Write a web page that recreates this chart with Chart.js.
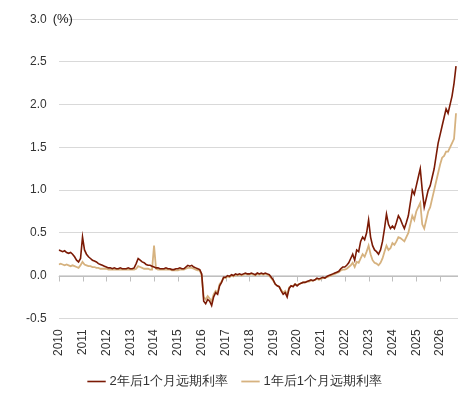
<!DOCTYPE html>
<html><head><meta charset="utf-8">
<script src="https://cdn.jsdelivr.net/npm/chart.js@4"></script>
<style>html,body{margin:0;padding:0;background:#fff}#w{width:474px;height:406px}</style>
</head><body><div id="w"><canvas id="c"></canvas></div>
<script>
const startYear = 2010;
const seriesNames = ["2年后1个月远期利率", "1年后1个月远期利率"];
const yTicks = [-0.5, 0, 0.5, 1.0, 1.5, 2.0, 2.5, 3.0];
const xTicks = [2010,2011,2012,2013,2014,2015,2016,2017,2018,2019,2020,2021,2022,2023,2024,2025,2026];
const rate2y = [
.30,.29,.28,.29,.27,.26,.27,.25,.22,.18,.16,.20,
.45,.30,.25,.22,.20,.18,.17,.16,.14,.13,.12,.11,
.10,.09,.09,.08,.09,.08,.08,.09,.08,.08,.08,.09,
.08,.08,.09,.14,.20,.18,.16,.15,.13,.12,.12,.11,
.10,.09,.09,.08,.08,.08,.09,.08,.08,.07,.07,.08,
.08,.09,.08,.08,.10,.12,.11,.12,.10,.09,.08,.07,
.02,-.30,-.33,-.28,-.30,-.35,-.25,-.20,-.22,-.12,-.08,-.02,
-.02,.0,-.01,.01,.0,.02,.01,.02,.01,.02,.03,.02,
.02,.03,.02,.01,.03,.02,.03,.02,.03,.02,.01,-.02,
-.05,-.10,-.12,-.13,-.18,-.22,-.20,-.25,-.15,-.12,-.13,-.10,
-.12,-.10,-.09,-.08,-.08,-.07,-.06,-.05,-.06,-.05,-.03,-.04,
-.03,-.02,-.03,-.01,.0,.01,.02,.03,.04,.05,.08,.10,
.10,.12,.15,.20,.25,.18,.30,.28,.40,.45,.42,.50,
.65,.45,.35,.30,.28,.25,.30,.40,.55,.72,.60,.55,
.58,.55,.62,.70,.66,.60,.55,.62,.70,.85,1.0,.95,
1.05,1.15,1.25,1.0,.80,.90,1.0,1.05,1.15,1.25,1.40,1.55,
1.65,1.75,1.85,1.95,1.90,2.00,2.10,2.25,2.45];
const rate1y = [
.13,.14,.13,.12,.13,.12,.11,.12,.11,.10,.09,.12,
.16,.13,.12,.11,.11,.10,.10,.09,.09,.08,.08,.08,
.08,.07,.07,.07,.07,.07,.07,.07,.07,.07,.07,.07,
.07,.07,.07,.08,.11,.10,.09,.08,.08,.08,.07,.07,
.35,.08,.07,.07,.07,.07,.07,.07,.07,.06,.06,.06,
.06,.07,.07,.07,.08,.09,.09,.09,.08,.07,.06,.06,
.0,-.25,-.28,-.24,-.27,-.30,-.22,-.18,-.20,-.10,-.07,-.03,
-.03,-.01,-.02,0,-.01,.01,0,.01,0,.01,.02,.01,
.01,.02,.01,0,.02,.01,.02,.01,.02,.01,0,-.03,
-.06,-.10,-.12,-.13,-.17,-.20,-.18,-.22,-.14,-.12,-.12,-.10,
-.11,-.10,-.09,-.08,-.08,-.07,-.07,-.06,-.06,-.05,-.04,-.05,
-.04,-.03,-.03,-.02,-.01,0,.01,.02,.03,.04,.06,.07,
.07,.08,.10,.12,.15,.10,.16,.15,.20,.25,.22,.28,
.35,.25,.18,.15,.14,.12,.15,.20,.28,.35,.30,.32,
.38,.36,.40,.45,.44,.42,.40,.45,.50,.60,.70,.65,
.75,.80,.85,.60,.55,.65,.75,.80,.90,1.0,1.10,1.20,
1.30,1.38,1.40,1.45,1.45,1.50,1.55,1.60,1.90];
const toXY = a => a.map((v,i)=>({x:startYear+i/12, y:v}));
const zeroTicks = {
  id:'zt',
  beforeDatasetsDraw(ch){
    const c=ch.ctx, xs=ch.scales.x, ys=ch.scales.y, y0=Math.round(ys.getPixelForValue(0))+0.5;
    c.save(); c.strokeStyle='#bfbfbf'; c.lineWidth=1;
    c.beginPath(); c.moveTo(xs.left,y0); c.lineTo(xs.right,y0); c.stroke();
    xTicks.forEach(t=>{const px=Math.round(xs.getPixelForValue(t))+0.5; c.beginPath(); c.moveTo(px,y0); c.lineTo(px,y0+5); c.stroke();});
    c.restore();
  },
  afterDatasetsDraw(ch){
    const c=ch.ctx, xs=ch.scales.x, ys=ch.scales.y;
    c.save(); c.fillStyle='#222'; c.font='13px "Liberation Sans", Arial'; c.textBaseline='middle';
    c.fillText('(%)', xs.left-6, ys.getPixelForValue(3.0)); c.restore();
  }
};
new Chart(document.getElementById('c'),{
  type:'line',
  data:{datasets:[
    {label:seriesNames[0],data:toXY(rate2y),borderColor:'#7B1A05',backgroundColor:'#7B1A05',borderWidth:1.6,pointRadius:0,tension:0},
    {label:seriesNames[1],data:toXY(rate1y),borderColor:'#D6B27F',backgroundColor:'#D6B27F',borderWidth:1.8,pointRadius:0,tension:0}
  ]},
  options:{
    responsive:true,maintainAspectRatio:false,animation:false,
    layout:{padding:{left:14,right:16,top:8,bottom:8}},
    scales:{
      x:{type:'linear',min:2010,max:2026.75,afterBuildTicks:s=>{s.ticks=xTicks.map(v=>({value:v}));},
        grid:{display:false},border:{display:false},
        ticks:{color:'#333',font:{size:12,family:'"Liberation Sans", Arial'},maxRotation:90,minRotation:90,autoSkip:false,callback:v=>String(v)}},
      y:{min:-0.5,max:3.0,afterBuildTicks:s=>{s.ticks=yTicks.map(v=>({value:v}));},
        grid:{color:'#d9d9d9',drawTicks:false},border:{display:false},
        ticks:{color:'#333',padding:12,font:{size:12,family:'"Liberation Sans", Arial'},callback:v=>v.toFixed(1)}}
    },
    plugins:{
      legend:{position:'bottom',labels:{usePointStyle:true,pointStyle:'line',boxWidth:34,padding:16,color:'#333',font:{size:13,family:'"Liberation Sans", Arial'}}},
      tooltip:{enabled:false}
    }
  },
  plugins:[zeroTicks]
});
</script></body></html>
